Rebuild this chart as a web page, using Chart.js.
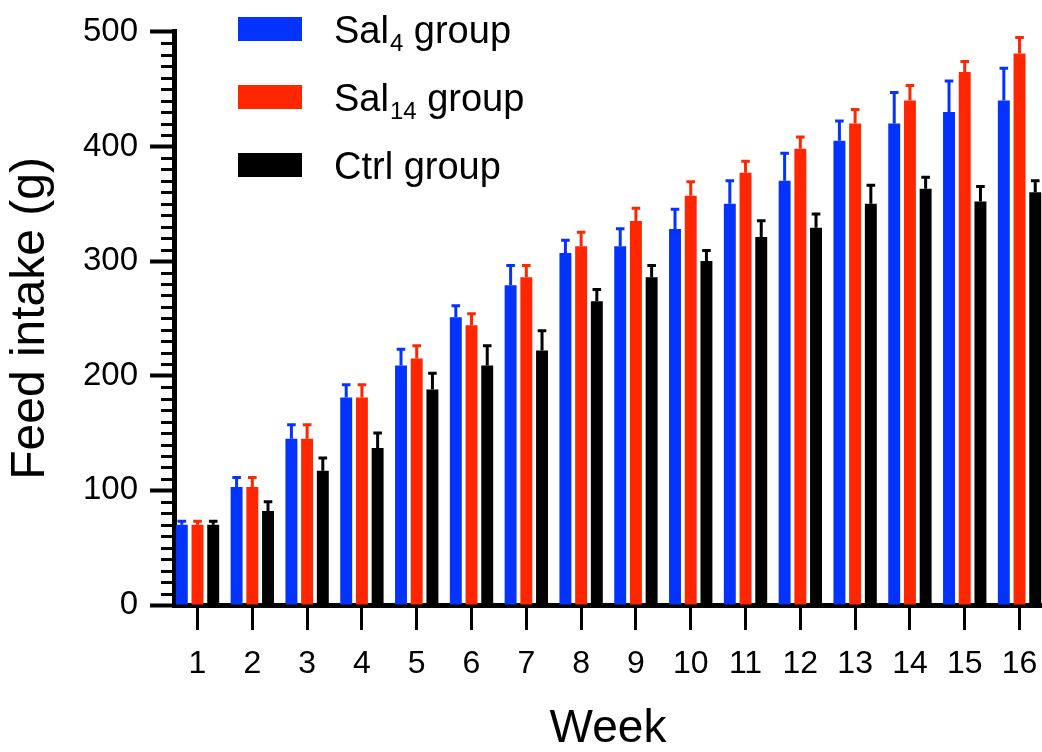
<!DOCTYPE html>
<html>
<head>
<meta charset="utf-8">
<title>Feed intake</title>
<script src="https://cdn.jsdelivr.net/npm/chart.js@4.4.0/dist/chart.umd.min.js"></script>
<style>
  html, body { margin: 0; padding: 0; background: #fff; }
  canvas { display: block; }
</style>
</head>
<body>
<canvas id="feedChart" width="1042" height="752"></canvas>
<script>
var weeks = [1, 2, 3, 4, 5, 6, 7, 8, 9, 10, 11, 12, 13, 14, 15, 16];

var sal4 = [70, 103, 145, 181, 209, 251, 279, 307, 313, 328, 350, 370, 405, 420, 430, 440];
var sal4Err = [4, 9, 13, 12, 15, 11, 18, 12, 16, 18, 21, 25, 18, 28, 28, 29];

var sal14 = [70, 103, 145, 181, 215, 244, 286, 313, 335, 357, 377, 398, 420, 440, 465, 481];
var sal14Err = [4, 9, 13, 12, 12, 11, 11, 13, 12, 13, 11, 11, 13, 14, 10, 15];

var ctrl = [70, 82, 117, 137, 188, 209, 222, 265, 286, 300, 321, 329, 350, 363, 352, 360];
var ctrlErr = [4, 9, 12, 14, 15, 18, 18, 11, 11, 10, 15, 13, 17, 11, 14, 11];

var yTicks = [0, 100, 200, 300, 400, 500];

var seriesNames = ["Sal", "Sal", "Ctrl"];
var seriesSubs = ["4", "14", ""];
var seriesColors = ["#0433FF", "#FF2600", "#000000"];

var fontFamily = "'Liberation Sans', Arial, sans-serif";

window.onload = inicializar;

function toPoints(values) {
  var pts = [];
  for (var i = 0; i < weeks.length; i++) {
    pts.push({ x: weeks[i], y: values[i] });
  }
  return pts;
}

function makeDataset(i, values, errors) {
  return {
    label: seriesNames[i] + seriesSubs[i] + " group",
    data: toPoints(values),
    errors: errors,
    backgroundColor: seriesColors[i],
    borderWidth: 0,
    categoryPercentage: 0.86,
    barPercentage: 0.76
  };
}

// upward error bars, same colour as the bar
var errorBarPlugin = {
  id: "errorBars",
  afterDatasetsDraw: function (chart) {
    var ctx = chart.ctx, yScale = chart.scales.y;
    chart.data.datasets.forEach(function (ds, i) {
      var meta = chart.getDatasetMeta(i);
      meta.data.forEach(function (bar, j) {
        var top = yScale.getPixelForValue(ds.data[j].y + ds.errors[j]);
        var half = bar.width * 0.36;
        ctx.save();
        ctx.strokeStyle = ds.backgroundColor;
        ctx.lineWidth = 3;
        ctx.beginPath();
        ctx.moveTo(bar.x, bar.y);
        ctx.lineTo(bar.x, top);
        ctx.moveTo(bar.x - half, top + 1);
        ctx.lineTo(bar.x + half, top + 1);
        ctx.stroke();
        ctx.restore();
      });
    });
  }
};

// minor ticks on the y axis every 10 g
var minorTickPlugin = {
  id: "minorTicks",
  afterDraw: function (chart) {
    var ctx = chart.ctx, yScale = chart.scales.y, left = chart.chartArea.left;
    ctx.save();
    ctx.strokeStyle = "#000";
    ctx.lineWidth = 3;
    ctx.beginPath();
    for (var v = 10; v < 500; v += 10) {
      if (v % 100 == 0) continue;
      var py = Math.round(yScale.getPixelForValue(v)) + 0.5;
      ctx.moveTo(left - 13, py);
      ctx.lineTo(left, py);
    }
    ctx.stroke();
    ctx.restore();
  }
};

var legendPlugin = {
  id: "groupLegend",
  afterDraw: function (chart) {
    var ctx = chart.ctx;
    var rows = [29, 97, 165];
    ctx.save();
    for (var i = 0; i < seriesNames.length; i++) {
      var cy = rows[i];
      ctx.fillStyle = seriesColors[i];
      ctx.fillRect(238, cy - 12, 64, 24);
      ctx.fillStyle = "#000";
      ctx.textBaseline = "alphabetic";
      ctx.textAlign = "left";
      var base = cy + 14;
      var x = 334;
      ctx.font = "38px " + fontFamily;
      ctx.fillText(seriesNames[i], x, base);
      x += ctx.measureText(seriesNames[i]).width;
      if (seriesSubs[i] != "") {
        ctx.font = "24px " + fontFamily;
        ctx.fillText(seriesSubs[i], x + 1, base + 8);
        x += ctx.measureText(seriesSubs[i]).width + 1;
        ctx.font = "38px " + fontFamily;
      }
      ctx.fillText(" group", x, base);
    }
    ctx.restore();
  }
};

function inicializar() {
  var canvas = document.getElementById("feedChart");

  new Chart(canvas, {
    type: "bar",
    data: {
      datasets: [
        makeDataset(0, sal4, sal4Err),
        makeDataset(1, sal14, sal14Err),
        makeDataset(2, ctrl, ctrlErr)
      ]
    },
    options: {
      responsive: false,
      animation: false,
      devicePixelRatio: 1,
      layout: { padding: { top: 28, left: 0, right: 0, bottom: 0 } },
      plugins: {
        legend: { display: false },
        tooltip: { enabled: false }
      },
      scales: {
        x: {
          type: "linear",
          min: 0.571,
          max: 16.41,
          offset: false,
          z: 1,
          afterFit: function (scale) {
            scale.height = 147;
            scale.paddingLeft = 0;
            scale.paddingRight = 0;
          },
          afterBuildTicks: function (scale) {
            scale.ticks = weeks.map(function (w) { return { value: w }; });
          },
          border: { display: true, color: "#000", width: 5 },
          grid: { offset: false, drawOnChartArea: false, drawTicks: true, tickLength: 25, tickWidth: 3, tickColor: "#000" },
          ticks: {
            color: "#000",
            padding: 15,
            maxRotation: 0,
            autoSkip: false,
            font: { family: fontFamily, size: 32 },
            callback: function (v) { return String(v); }
          },
          title: {
            display: true,
            text: "Week",
            color: "#000",
            font: { family: fontFamily, size: 46, lineHeight: 1 },
            padding: { top: 0, bottom: 0 }
          }
        },
        y: {
          min: 0,
          max: 500,
          z: 1,
          afterFit: function (scale) { scale.width = 174; },
          afterBuildTicks: function (scale) {
            scale.ticks = yTicks.map(function (t) { return { value: t }; });
          },
          border: { display: true, color: "#000", width: 5 },
          grid: { drawOnChartArea: false, drawTicks: true, tickLength: 24, tickWidth: 4, tickColor: "#000" },
          ticks: {
            color: "#000",
            padding: 12,
            font: { family: fontFamily, size: 33 }
          },
          title: {
            display: true,
            text: "Feed intake (g)",
            color: "#000",
            font: { family: fontFamily, size: 48, lineHeight: 1 },
            padding: { top: 7, bottom: 0 }
          }
        }
      }
    },
    plugins: [errorBarPlugin, minorTickPlugin, legendPlugin]
  });
}
</script>
</body>
</html>
